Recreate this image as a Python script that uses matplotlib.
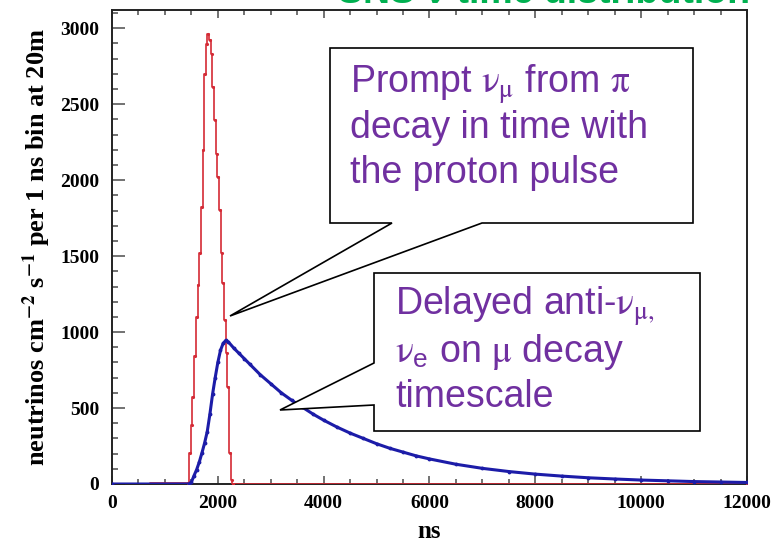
import matplotlib
matplotlib.use("Agg")
import matplotlib.pyplot as plt
from matplotlib.patches import Polygon
from matplotlib.ticker import MultipleLocator

W, H = 776, 544

# prompt (pion decay) flux, neutrinos per 1 ns bin at 20 m
prompt_ns = [0, 1440, 1474, 1505, 1537, 1568, 1600, 1632, 1663, 1695, 1726, 1757,
             1789, 1820, 1852, 1883, 1915, 1946, 1978, 2009, 2041, 2072, 2104,
             2135, 2167, 2198, 2230, 2261, 2293, 12000]
prompt_flux = [0, 4, 202, 390, 575, 840, 1101, 1310, 1518, 1825, 2197, 2702,
               2899, 2965, 2921, 2833, 2614, 2395, 2175, 2022, 1803, 1518, 1320,
               1079, 860, 640, 202, 26, 0, 0]

# delayed (muon decay) flux
delayed_ns = [0, 1450, 1500, 1550, 1600, 1650, 1700, 1750, 1800, 1850, 1900, 1950,
              2000, 2050, 2100, 2150, 2200, 2300, 2400, 2500, 2600, 2800, 3000,
              3200, 3400, 3600, 3800, 4000, 4250, 4500, 4750, 5000, 5250, 5500,
              5750, 6000, 6500, 7000, 7500, 8000, 8500, 9000, 9500, 10000, 10500,
              11000, 11500, 12000]
delayed_flux = [0, 0, 12, 55, 95, 145, 205, 270, 345, 460, 590, 700,
                800, 880, 925, 945, 935, 895, 860, 825, 790, 720, 660,
                600, 550, 505, 460, 420, 375, 335, 300, 265, 235, 210,
                185, 165, 130, 103, 82, 65, 52, 41, 33, 26, 21,
                16, 13, 10]

x_ticks = [0, 2000, 4000, 6000, 8000, 10000, 12000]
y_ticks = [0, 500, 1000, 1500, 2000, 2500, 3000]

plt.rcParams["mathtext.fontset"] = "stix"
SERIF = "Liberation Serif"
SANS = "Liberation Sans"
PURPLE = "#7030a0"


def px(x, y):
    """Pixel position (from top-left) to figure fraction."""
    return x / W, 1 - y / H


fig = plt.figure(figsize=(W / 100, H / 100), dpi=100)
fig.patch.set_facecolor("white")
ax = fig.add_axes([112 / W, 1 - 484 / H, (747 - 112) / W, (484 - 10) / H])

ax.plot(prompt_ns, prompt_flux, color="#d42a35", lw=1.2, drawstyle="steps-mid",
        marker=".", ms=2.5, zorder=3)
ax.plot(delayed_ns, delayed_flux, color="#1c1ca8", lw=2.2, marker=".", ms=3.5,
        zorder=4)

ax.set_xlim(0, 12000)
ax.set_ylim(0, 3120)
ax.set_xticks(x_ticks)
ax.set_yticks(y_ticks)
ax.xaxis.set_minor_locator(MultipleLocator(500))
ax.yaxis.set_minor_locator(MultipleLocator(100))
ax.tick_params(which="both", direction="in", top=True, right=False, color="#5a5a5a",
               width=1.2)
ax.tick_params(axis="y", which="major", length=9, pad=9)
ax.tick_params(axis="y", which="minor", length=4.5)
ax.tick_params(axis="x", which="major", length=6, pad=8)
ax.tick_params(axis="x", which="minor", length=3.5)
for lab in ax.get_xticklabels() + ax.get_yticklabels():
    lab.set_fontfamily(SERIF)
    lab.set_fontweight("bold")
    lab.set_fontsize(14)
for spine in ax.spines.values():
    spine.set_linewidth(1.4)
    spine.set_color("#222222")

ax.set_xlabel("ns", fontfamily=SERIF, fontweight="bold", fontsize=18, labelpad=6)
ax.set_ylabel(r"neutrinos cm$^{\mathbf{-2}}$ s$^{\mathbf{-1}}$ per 1 ns bin at 20m",
              fontfamily=SERIF, fontweight="bold", fontsize=19, labelpad=5)

# clipped slide heading along the top edge
fig.text(*px(338, 3), "SNS ν time distribution", color="#00b050",
         fontfamily=SANS, fontweight="bold", fontsize=27, va="baseline", ha="left")

# callout for the prompt component
box1 = [(330, 48), (693, 48), (693, 223), (482, 223), (230, 316), (392, 223), (330, 223)]
fig.patches.append(Polygon([px(*p) for p in box1], closed=True, facecolor="white",
                           edgecolor="black", lw=1.2, transform=fig.transFigure,
                           zorder=10))
lines1 = [r"Prompt $\mathrm{\nu}_{\mathrm{\mu}}$ from $\mathrm{\pi}$",
          "decay in time with", "the proton pulse"]
for txt, yb in zip(lines1, [93, 138, 183]):
    fig.text(*px(350, yb), txt, color=PURPLE, fontfamily=SANS, fontsize=27,
             va="baseline", ha="left", zorder=11)

# callout for the delayed component
box2 = [(374, 273), (700, 273), (700, 431), (374, 431), (374, 405), (280, 410), (374, 363)]
fig.patches.append(Polygon([px(*p) for p in box2], closed=True, facecolor="white",
                           edgecolor="black", lw=1.2, transform=fig.transFigure,
                           zorder=10))
lines2 = [r"Delayed anti-$\mathrm{\nu}_{\mathrm{\mu},}$",
          r"$\mathrm{\nu}_{\mathregular{e}}$ on $\mathrm{\mu}$ decay", "timescale"]
for txt, yb in zip(lines2, [315, 362, 407]):
    fig.text(*px(395, yb), txt, color=PURPLE, fontfamily=SANS, fontsize=27,
             va="baseline", ha="left", zorder=11)

fig.savefig("out.png", dpi=100, facecolor="white")
